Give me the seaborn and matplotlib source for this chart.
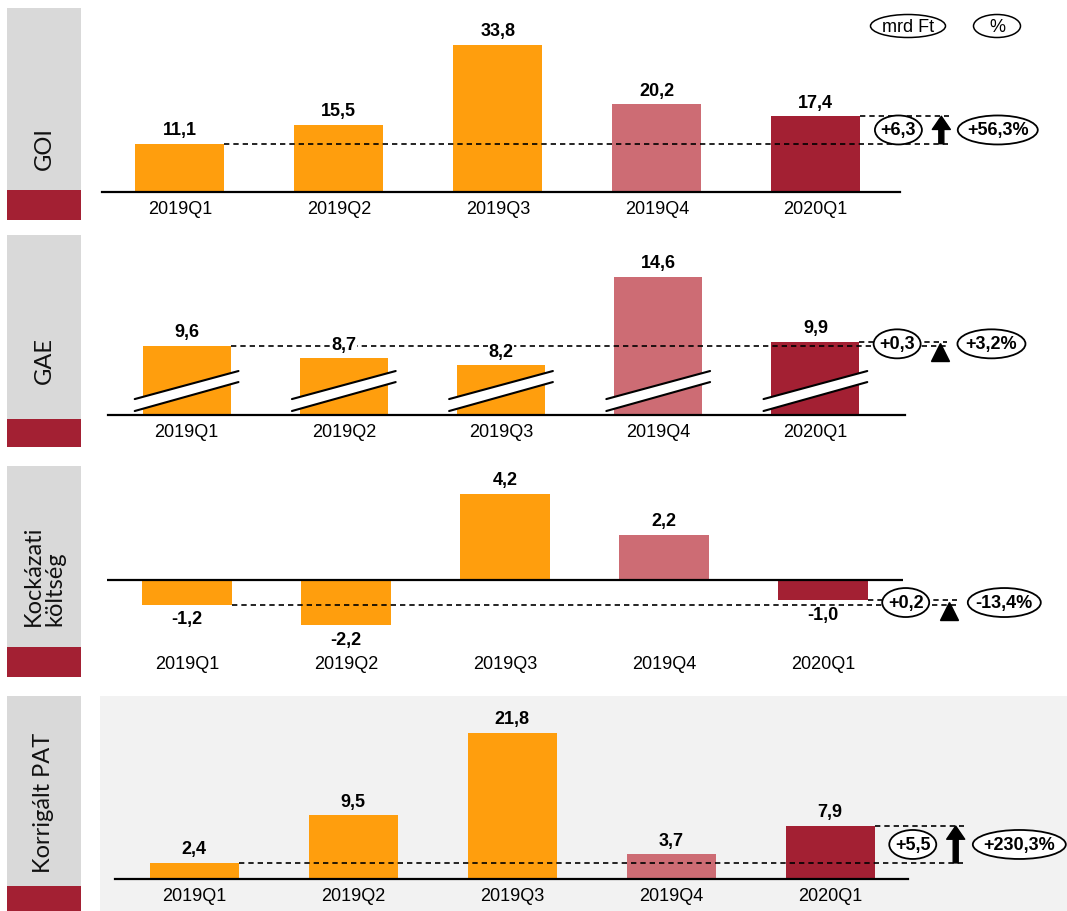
import matplotlib
matplotlib.use("Agg")
import matplotlib.pyplot as plt
import matplotlib.transforms as mtransforms
from matplotlib.patches import Rectangle, Ellipse, FancyArrowPatch, Polygon
import seaborn as sns
import pandas as pd

# ---- data -------------------------------------------------------------
quarters = ["2019Q1", "2019Q2", "2019Q3", "2019Q4", "2020Q1"]
goi = [11.1, 15.5, 33.8, 20.2, 17.4]
gae = [9.6, 8.7, 8.2, 14.6, 9.9]
risk_cost = [-1.2, -2.2, 4.2, 2.2, -1.0]
adj_pat = [2.4, 9.5, 21.8, 3.7, 7.9]
panel_titles = ["GOI", "GAE", "Kockázati\nköltség", "Korrigált PAT"]
yoy_pct = ["+56,3%", "+3,2%", "-13,4%", "+230,3%"]
unit_labels = ["mrd Ft", "%"]

ORANGE = "#FF9E0D"
PINK = "#CD6C74"
CRIMSON = "#A32033"
bar_colors = [ORANGE, ORANGE, ORANGE, PINK, CRIMSON]
SIDE_GRAY = "#D9D9D9"
PANEL_BG = "#F2F2F2"

W, H, DPI = 1067, 912, 100

sns.set_theme(style="white")
plt.rcParams["font.family"] = ["Liberation Sans Narrow", "Liberation Sans", "DejaVu Sans"]
plt.rcParams["text.color"] = "black"
plt.rcParams["xtick.color"] = "black"
plt.rcParams["axes.labelcolor"] = "black"
TITLE_FONT = ["Lato", "DejaVu Sans"]

fig = plt.figure(figsize=(W / DPI, H / DPI), dpi=DPI)


def fig_box(x0, y0, x1, y1):
    """Pixel box (top-left origin) -> figure fraction [l, b, w, h]."""
    return [x0 / W, 1 - y1 / H, (x1 - x0) / W, (y1 - y0) / H]


def hu(v, sign=False):
    s = f"{v:+.1f}" if sign else f"{v:.1f}"
    return s.replace(".", ",")


def px_offset(dx, dy):
    return mtransforms.ScaledTranslation(dx / DPI, dy / DPI, fig.dpi_scale_trans)


def oval_on(ax, x, y, text, w, h, weight="bold", size=13):
    tr = fig.dpi_scale_trans + mtransforms.ScaledTranslation(x, y, ax.transData)
    fig.add_artist(Ellipse((0, 0), w / DPI, h / DPI, transform=tr,
                           fc="white", ec="black", lw=1.3, zorder=5))
    fig.text(x, y, text, transform=ax.transData, ha="center", va="center",
             fontsize=size, fontweight=weight, zorder=6)


panels = [
    dict(vals=goi, box=(102, 8, 900, 193), xlim=(-0.49, 4.53), ylim=(0, 42.5),
         side=(7, 9, 81, 221, 191), title_y=149, marker="arrow", pct_x=5.145, pct_w=80),
    dict(vals=gae, box=(108, 235, 905, 416), xlim=(-0.50, 4.57), ylim=(4.6, 17.7),
         side=(7, 236, 81, 448, 420), title_y=360, marker="tri", pct_x=5.12, pct_w=68,
         broken=True),
    dict(vals=risk_cost, box=(107, 465, 903, 648), xlim=(-0.503, 4.503), ylim=(-3.27, 5.66),
         side=(7, 467, 81, 678, 648), title_y=576, marker="tri", pct_x=5.14, pct_w=73,
         zero_line=True),
    dict(vals=adj_pat, box=(115, 697, 908, 880), xlim=(-0.497, 4.49), ylim=(0, 27.3),
         side=(7, 697, 81, 912, 887), title_y=803, marker="arrow", pct_x=5.19, pct_w=93,
         background=True),
]

BAR_W = 0.56

for k, p in enumerate(panels):
    vals = p["vals"]

    # side label strip
    sx0, sy0, sx1, sy1, sred = p["side"]
    l, b, w, h = fig_box(sx0, sy0, sx1, sred)
    fig.add_artist(Rectangle((l, b), w, h, transform=fig.transFigure, fc=SIDE_GRAY, ec="none"))
    l, b, w, h = fig_box(sx0, sred, sx1, sy1)
    fig.add_artist(Rectangle((l, b), w, h, transform=fig.transFigure, fc=CRIMSON, ec="none"))
    fig.text(44 / W, 1 - p["title_y"] / H, panel_titles[k], rotation=90,
             ha="center", va="center", multialignment="left", fontsize=17,
             family=TITLE_FONT, color="#111111", linespacing=1.05)

    if p.get("background"):
        l, b, w, h = fig_box(100, 697, W, H)
        fig.add_artist(Rectangle((l, b), w, h, transform=fig.transFigure,
                                 fc=PANEL_BG, ec="none", zorder=-1))

    ax = fig.add_axes(fig_box(*p["box"]))
    ax.set_facecolor("none")
    df = pd.DataFrame({"quarter": quarters, "value": vals})
    sns.barplot(data=df, x="quarter", y="value", hue="quarter", palette=bar_colors,
                width=BAR_W, saturation=1, legend=False, ax=ax, edgecolor="none")

    for s in ["top", "right", "left"]:
        ax.spines[s].set_visible(False)
    if p.get("zero_line"):
        ax.spines["bottom"].set_visible(False)
        ax.axhline(0, color="black", lw=1.6, zorder=3)
    else:
        ax.spines["bottom"].set_color("black")
        ax.spines["bottom"].set_linewidth(1.6)
    ax.set_yticks([])
    ax.set_xlabel("")
    ax.set_ylabel("")
    ax.set_xticks(range(len(quarters)))
    ax.set_xticklabels(quarters, fontsize=13, color="black")
    ax.tick_params(axis="x", length=0, pad=6)

    # value labels
    for i, v in enumerate(vals):
        if v >= 0:
            ax.annotate(hu(v), (i, v), xytext=(0, 4), textcoords="offset points",
                        ha="center", va="bottom", fontsize=13, fontweight="bold",
                        color="black", annotation_clip=False, zorder=6,
                        bbox=dict(fc="white", ec="none", pad=0.5) if p.get("broken") else None)
        else:
            ax.annotate(hu(v), (i, v), xytext=(0, -4), textcoords="offset points",
                        ha="center", va="top", fontsize=13, fontweight="bold",
                        color="black", annotation_clip=False, zorder=6)

    # axis-break marks across the truncated bars
    if p.get("broken"):
        trans = mtransforms.blended_transform_factory(ax.transData, ax.transAxes)
        for i in range(len(vals)):
            xl, xr = i - 0.33, i + 0.33
            lo = (0.022, 0.182)
            hi = (0.088, 0.243)
            ax.add_patch(Polygon([(xl, lo[0]), (xr, lo[1]), (xr, hi[1]), (xl, hi[0])],
                                 closed=True, transform=trans, fc="white", ec="none",
                                 zorder=3, clip_on=False))
            ax.plot([xl, xr], [lo[0], lo[1]], transform=trans, color="black", lw=1.5,
                    zorder=3.5, clip_on=False)
            ax.plot([xl, xr], [hi[0], hi[1]], transform=trans, color="black", lw=1.5,
                    zorder=3.5, clip_on=False)

    # reference lines for first and last quarter
    v_first, v_last = vals[0], vals[-1]
    x_end = 4.84
    dash = (0, (3.2, 2.4))
    ax.plot([0 + BAR_W / 2, x_end], [v_first, v_first], color="black", lw=1.2,
            ls=dash, zorder=4, clip_on=False)
    ax.plot([4 + BAR_W / 2, x_end], [v_last, v_last], color="black", lw=1.2,
            ls=dash, zorder=4, clip_on=False)

    mid = (v_first + v_last) / 2
    if p["marker"] == "arrow":
        ax.add_patch(FancyArrowPatch((4.79, v_first), (4.79, v_last),
                                     arrowstyle="simple,head_width=1.3,head_length=0.95,tail_width=0.36",
                                     mutation_scale=10, color="black", shrinkA=0, shrinkB=0,
                                     zorder=5, clip_on=False))
    else:
        ax.plot([4.79], [mid], marker="^", ms=13, color="black", ls="none",
                transform=ax.transData + px_offset(0, -8), clip_on=False, zorder=5)

    ax.set_xlim(*p["xlim"])
    ax.set_ylim(*p["ylim"])

    oval_on(ax, 4.52, mid, hu(v_last - v_first, sign=True), 47, 29)
    oval_on(ax, p["pct_x"], mid, yoy_pct[k], p["pct_w"], 29)

# unit header ovals
for text, cx, ow in zip(unit_labels, [908, 997], [75, 47]):
    fig.add_artist(Ellipse((cx / DPI, (H - 27) / DPI), ow / DPI, 23 / DPI,
                           transform=fig.dpi_scale_trans, fc="white", ec="black", lw=1.1))
    fig.text(cx / W, 1 - 27 / H, text, ha="center", va="center", fontsize=13, color="black")

fig.savefig("out.png", dpi=DPI)
